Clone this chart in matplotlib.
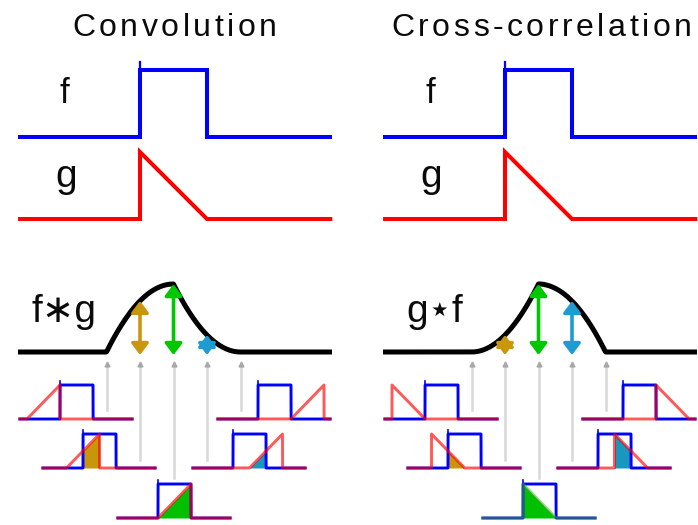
import numpy as np
import matplotlib
matplotlib.use('Agg')
import matplotlib.pyplot as plt

# signals, x in pulse widths, y in pulse heights
f_x = [-1.82, 0, 0, 1, 1, 2.87]
f_y = [0, 0, 1, 1, 0, 0]
g_x = [-1.82, 0, 0, 1, 2.87]
g_y = [0, 0, 1, 0, 0]
lags = [0, 0.5, 1, 1.5, 2]
titles = ['Convolution', 'Cross-correlation']
result_labels = ['f\u2217g', 'g\u22c6f']
kinds = ['conv', 'xcorr']

lag_colors = [None, '#c8960f', '#00c800', '#1e9bd2', None]
fill_colors = [None, '#c8960a', '#00c000', '#1897c0', None]

plt.rcParams['font.family'] = ['Liberation Sans', 'DejaVu Sans']

fig = plt.figure(figsize=(6.98, 5.25), dpi=100)
ax = fig.add_axes([0, 0, 1, 1])
ax.set_xlim(0, 698)
ax.set_ylim(525, 0)
ax.axis('off')

U = 67          # px per unit, big plots
CV = 136        # px per unit, result curve
u_dense = np.linspace(-1.82, 2.87, 4000)
du = u_dense[1] - u_dense[0]
f_dense = np.interp(u_dense, f_x, f_y)


def g_shift(u, t, kind):
    if kind == 'conv':
        return np.interp(t - u, g_x, g_y, left=0, right=0)
    return np.interp(u - t + 1, g_x, g_y, left=0, right=0)


def result(t, kind):
    return np.sum(f_dense * g_shift(u_dense, t, kind)) * du


def spaced(x_left, x_right, y, s, size):
    r = fig.canvas.get_renderer()
    ws = []
    for ch in s:
        t = ax.text(0, 0, ch, fontsize=size)
        ws.append(t.get_window_extent(r).width)
        t.remove()
    gap = (x_right - x_left - sum(ws)) / (len(s) - 1)
    x = x_left
    for ch, w in zip(s, ws):
        ax.text(x, y, ch, fontsize=size, va='baseline', ha='left', color='#0a0a0a')
        x += w + gap


title_span = [(72, 277), (391, 692)]
mini_anchor = [(60, 419), (83, 468), (158, 518), (233, 468), (258, 419)]
gray_bottom = [410, 460, 478, 460, 410]
mu, mv = 33, 34
u_mini = np.linspace(-1.26, 2.23, 3000)

for p, kind in enumerate(kinds):
    off = 365 * p
    x0 = 140 + off

    spaced(title_span[p][0], title_span[p][1], 36, titles[p], 23)

    # f and g
    fx = x0 + np.array(f_x) * U
    ax.plot(fx, 137 - np.array(f_y) * U, color='#0000ff', lw=2.9,
            solid_capstyle='butt', solid_joinstyle='miter')
    ax.plot([x0, x0], [137 - U, 137 - U - 8], color='#0000ff', lw=1.6)
    gx = x0 + np.array(g_x) * U
    ax.plot(gx, 219 - np.array(g_y) * U, color='#ff0000', lw=2.9,
            solid_capstyle='butt', solid_joinstyle='miter')
    ax.text(60 + off, 103, 'f', fontsize=25, va='baseline', color='#0a0a0a')
    ax.text(55 + off, 187, 'g', fontsize=28, va='baseline', color='#0a0a0a')

    # result curve
    t_grid = np.linspace((18 - x0 + off) / U + 0.5, (332 - x0 + off) / U + 0.5, 500)
    vals = np.array([result(t, kind) for t in t_grid])
    ax.plot(x0 + (t_grid - 0.5) * U, 352 - vals * CV, color='black', lw=3.6,
            solid_capstyle='butt', zorder=3)
    ax.text([32, 406][p], 322, result_labels[p], fontsize=28, va='baseline',
            color='#0a0a0a')

    for i, t in enumerate(lags):
        xl = x0 + (t - 0.5) * U
        v = np.interp(t, t_grid, vals)
        # gray pointer
        ax.plot([xl, xl], [gray_bottom[i], 365], color='#d8d8d8', lw=1.8, zorder=1)
        ax.plot(xl, 364, marker='^', color='#a8a8a8', ms=3.5, zorder=1)
        if lag_colors[i] and v > 0:
            ax.annotate('', xy=(xl, 352 - v * CV), xytext=(xl, 355),
                        arrowprops=dict(arrowstyle='<|-|>,head_length=0.45,head_width=0.34',
                                        color=lag_colors[i], lw=2.6, mutation_scale=15,
                                        shrinkA=0, shrinkB=0), zorder=4)

        # mini plot
        bx, by = mini_anchor[i]
        bx += off
        fm = np.interp(u_mini, f_x, f_y)
        gm = g_shift(u_mini, t, kind)
        px = bx + u_mini * mu
        if fill_colors[i]:
            ax.fill_between(px, by, by - fm * gm * mv, color=fill_colors[i], lw=0, zorder=2)
        ax.plot(px, by - fm * mv, color='#0000ff', lw=2.1, zorder=3,
                solid_capstyle='butt')
        ax.plot([bx, bx], [by - mv, by - mv - 4], color='#0000ff', lw=1.2, zorder=3)
        if kind == 'xcorr' and t == 1:
            gcol, ga = '#40b020', 0.5
        else:
            gcol, ga = '#ff0000', 0.65
        ax.plot(px, by - gm * mv, color=gcol, lw=2.1, alpha=ga, zorder=4,
                solid_capstyle='butt')

fig.savefig('out.png', dpi=100)
